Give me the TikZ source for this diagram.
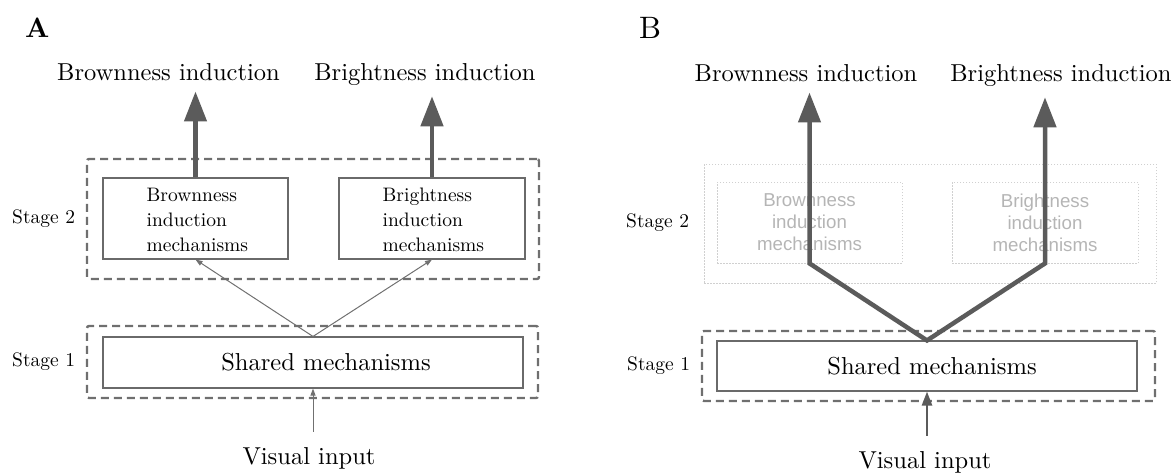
\documentclass[tikz,border=0pt]{standalone}
\usepackage{fontspec}
\setmainfont{lmroman10}[Extension=.otf, UprightFont=*-regular, BoldFont=*-bold]
\newfontfamily\graysans{Liberation Sans}
\usetikzlibrary{arrows.meta}

\definecolor{dashgray}{HTML}{6F6F6F}
\definecolor{boxgray}{HTML}{6A6A6A}
\definecolor{arrowgray}{HTML}{5B5B5B}
\definecolor{thingray}{HTML}{707070}
\definecolor{fadegray}{HTML}{D0D0D0}
\definecolor{fadetext}{HTML}{B5B5B5}

\tikzset{
  stagebox/.style={draw=dashgray, line width=2.4pt, dash pattern=on 8pt off 5pt,
    rounded corners=2pt, inner sep=0pt},
  mechbox/.style={draw=boxgray, line width=1.1pt, inner sep=0pt},
  fadebox/.style={draw=fadegray, line width=0.8pt, dash pattern=on 1.5pt off 1.5pt, inner sep=0pt},
  biglabel/.style={font=\fontsize{24.5}{29}\selectfont, inner sep=0pt, anchor=base},
  stagelabel/.style={font=\fontsize{19.5}{23}\selectfont, inner sep=0pt, anchor=west},
  mechtext/.style={font=\fontsize{19.5}{25}\selectfont, inner sep=0pt, align=left, anchor=west},
  fadelabel/.style={font=\graysans\fontsize{18.7}{22}\selectfont, text=fadetext, inner sep=0pt, align=center},
  heavyarrow/.style={draw=arrowgray, line width=4.5pt,
    -{Triangle[length=30pt, width=22pt]}},
  heavypath/.style={draw=arrowgray, line width=4.5pt,
    {Triangle[length=30pt, width=22pt]}-{Triangle[length=30pt, width=22pt]}},
  lightarrow/.style={draw=thingray, line width=1pt,
    -{Triangle[length=7pt, width=5pt]}},
  midarrow/.style={draw=arrowgray, line width=2.4pt,
    -{Triangle[length=14pt, width=10pt]}},
}

\begin{document}
\begin{tikzpicture}[x=1pt, y=-1pt]
\useasboundingbox (0,0) rectangle (1176,472);

% ---------------- Panel A ----------------
\node[font=\fontsize{28}{32}\selectfont\bfseries, inner sep=0pt, anchor=base west] (panelA) at (25,37) {A};

\node[biglabel] (brAl) at (168.5,80) {Brownness induction};
\node[biglabel] (biAl) at (425,80) {Brightness induction};

\node[stagebox, minimum width=452pt, minimum height=120pt] (stwoA) at (313,219) {};
\node[mechbox, minimum width=185pt, minimum height=81pt] (brA) at (195.5,218.5) {};
\node[mechbox, minimum width=186pt, minimum height=81pt] (biA) at (432,218.5) {};
\node[mechtext] (brAt) at ([xshift=44pt, yshift=-1pt]brA.west) {Brownness\\induction\\mechanisms};
\node[mechtext] (biAt) at ([xshift=44pt, yshift=-1pt]biA.west) {Brightness\\induction\\mechanisms};
\node[stagelabel] (stwoAl) at (12,219) {Stage 2};

\node[stagebox, minimum width=451pt, minimum height=72pt] (soneA) at (312.5,362) {};
\node[mechbox, minimum width=420pt, minimum height=51pt] (shA) at (313,362.5) {};
\node[biglabel] (shAt) at (326,370) {Shared mechanisms};
\node[stagelabel] (soneAl) at (12,362) {Stage 1};

\node[biglabel] (viA) at (309,464) {Visual input};

\draw[heavyarrow, shorten >=11pt] (brA.north) -- (brA.north |- brAl.south);
\draw[heavyarrow, shorten >=11pt] (biA.north) -- (biA.north |- biAl.south);
\draw[lightarrow] (shA.north) -- (brA.south);
\draw[lightarrow] (shA.north) -- (biA.south);
\draw[lightarrow, shorten <=15pt] (shA.south |- viA.north) -- (shA.south);

% ---------------- Panel B ----------------
\node[font=\fontsize{31}{35}\selectfont, inner sep=0pt, anchor=base west] (panelB) at (639,38) {B};

\node[biglabel] (brBl) at (806,81) {Brownness induction};
\node[biglabel] (biBl) at (1061,81) {Brightness induction};

\node[fadebox, minimum width=452pt, minimum height=119pt] (stwoB) at (930,223.5) {};
\node[fadebox, minimum width=185pt, minimum height=81pt] (brB) at (809.5,222.5) {};
\node[fadebox, minimum width=186pt, minimum height=81pt] (biB) at (1045,222.5) {};
\node[fadelabel] (brBt) at (brB.center) {Brownness\\induction\\mechanisms};
\node[fadelabel] (biBt) at (biB.center) {Brightness\\induction\\mechanisms};
\node[stagelabel] (stwoBl) at (626,223) {Stage 2};

\node[stagebox, minimum width=453pt, minimum height=70pt] (soneB) at (928.5,366) {};
\node[mechbox, minimum width=420pt, minimum height=50pt] (shB) at (927,366) {};
\node[biglabel] (shBt) at (932,374) {Shared mechanisms};
\node[stagelabel] (soneBl) at (627,366) {Stage 1};

\node[biglabel] (viB) at (925,468) {Visual input};

\draw[heavypath, shorten <=11pt, shorten >=11pt]
  (brB.center |- brBl.south) -- (brB.south) -- (shB.north) -- (biB.south) -- (biB.center |- biBl.south);
\draw[midarrow, shorten <=15pt] (shB.south |- viB.north) -- (shB.south);
\end{tikzpicture}
\end{document}
